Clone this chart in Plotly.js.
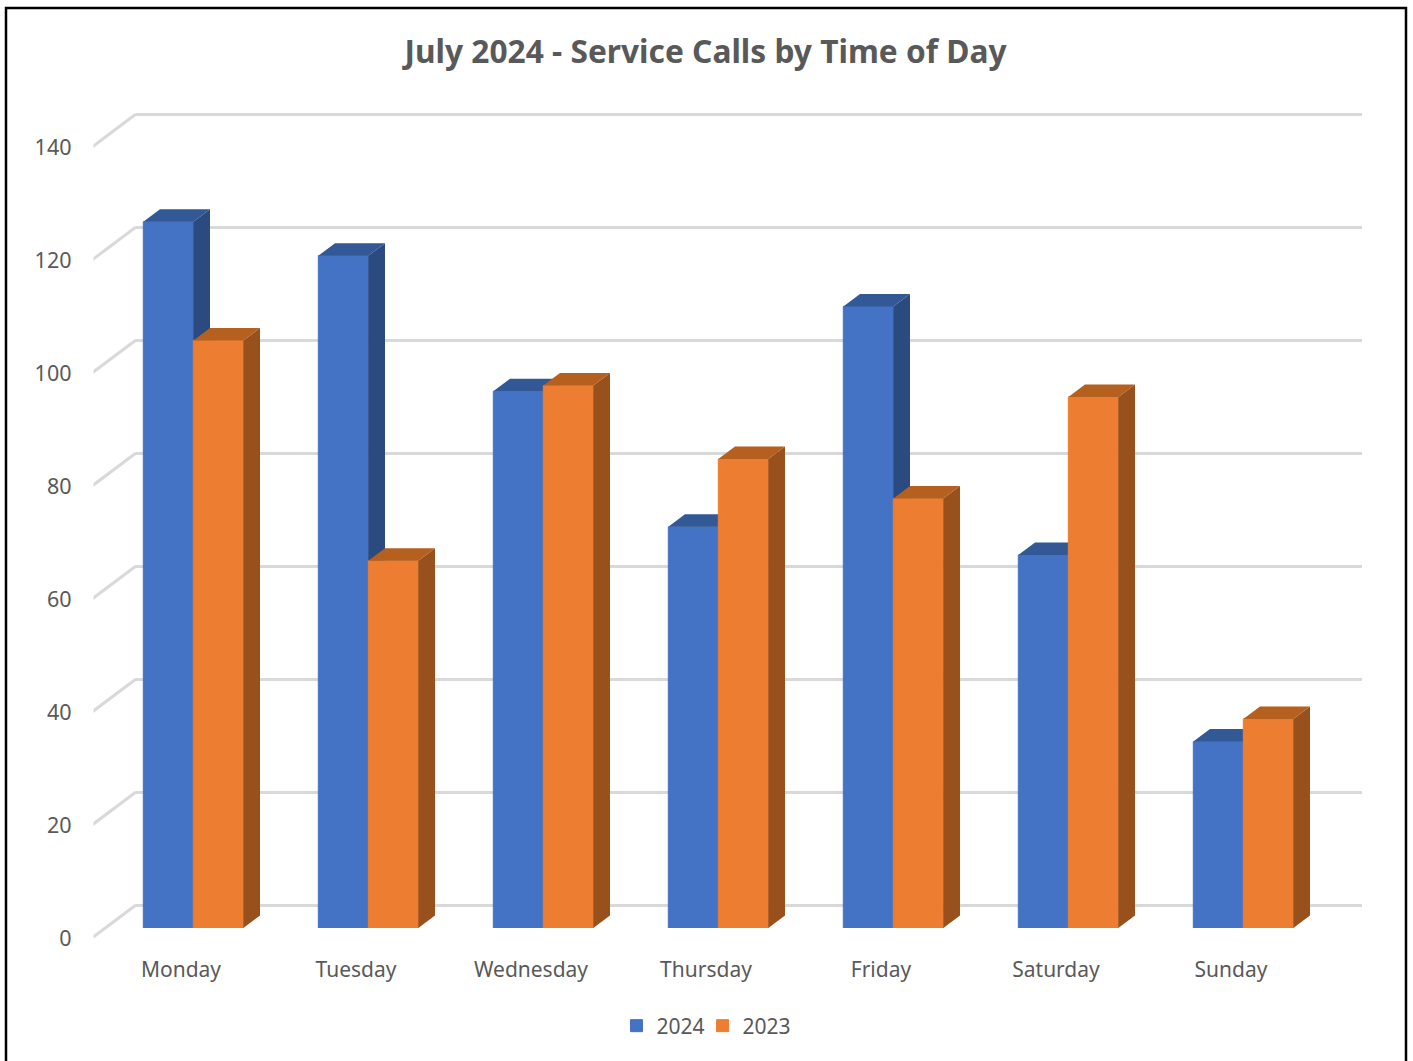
<!DOCTYPE html>
<html>
<head>
<meta charset="utf-8">
<script src="https://cdn.plot.ly/plotly-3.0.1.min.js"></script>
<style>html,body{margin:0;padding:0;background:#fff;overflow:hidden}</style>
</head>
<body>
<div id="chart" style="width:1413px;height:1061px"></div>
<script>
const categories = ['Monday','Tuesday','Wednesday','Thursday','Friday','Saturday','Sunday'];
const values2024 = [125,119,95,71,110,66,33];
const values2023 = [104,65,96,83,76,94,37];
const valueTicks = [0,20,40,60,80,100,120,140];

const W = 1413, H = 1061;
const UNIT = 791/140, SLOT = 175;
const TEXT = '#595959', GRID = '#D9D9D9';
const FONT = 'Noto Sans, sans-serif';
const BAR = 50/SLOT, DX = 16.7/SLOT, DY = 12.5/UNIT, WALLX = 44/SLOT, WALLY = 33/UNIT;
const LEFT = -0.5 - 1.5/SLOT;
const idx = categories.map((_, i) => i);

const domX = (a, b) => [a/W, b/W];
const domY = (bottom, top) => [(H-bottom)/H, (H-top)/H];
const yRange = (bottom, top) => [0, (bottom-top)/UNIT];

function faces(values, off) {
  const side = {x:[], y:[]}, top = {x:[], y:[]};
  values.forEach((v, i) => {
    const l = i+off, r = l+BAR;
    side.x.push(r, r+DX, r+DX, r, r, null);
    side.y.push(0, DY, v+DY, v, 0, null);
    top.x.push(l, l+DX, r+DX, r, l, null);
    top.y.push(v, v+DY, v+DY, v, v, null);
  });
  return {side, top};
}
function poly(d, color, ax, ay) {
  return {type:'scatter', mode:'lines', x:d.x, y:d.y, xaxis:ax, yaxis:ay, fill:'toself',
          fillcolor:color, line:{width:0, color:color}, hoverinfo:'skip', showlegend:false};
}
const f24 = faces(values2024, -BAR), f23 = faces(values2023, 0);

const diag = {x:[], y:[]};
valueTicks.forEach(v => {
  diag.x.push(LEFT, LEFT+WALLX, null);
  diag.y.push(v, v+WALLY, null);
});

const traces = [
  {type:'scatter', mode:'lines', x:[0], y:[0], xaxis:'x', yaxis:'y', hoverinfo:'skip', showlegend:false},
  {type:'bar', name:'2024', x:idx, y:values2024, xaxis:'x2', yaxis:'y2', width:BAR, offset:-BAR,
   marker:{color:'#4472C4', line:{width:1, color:'#4472C4'}}},
  poly(f24.side, '#2A4A80', 'x2', 'y2'),
  poly(f24.top, '#325996', 'x2', 'y2'),
  {type:'bar', name:'2023', x:idx, y:values2023, xaxis:'x3', yaxis:'y3', width:BAR, offset:0,
   marker:{color:'#ED7D31', line:{width:1, color:'#ED7D31'}}},
  poly(f23.side, '#98501C', 'x3', 'y3'),
  poly(f23.top, '#B5601F', 'x3', 'y3'),
  {type:'scatter', mode:'lines', x:diag.x, y:diag.y, xaxis:'x4', yaxis:'y4', cliponaxis:false,
   line:{color:GRID, width:3}, hoverinfo:'skip', showlegend:false}
];

const hiddenX = (dom, anchor) => ({domain:dom, range:[-0.5,6.5], anchor:anchor, visible:false, fixedrange:true});
const hiddenY = (dom, rng, anchor) => ({domain:dom, range:rng, anchor:anchor, visible:false, fixedrange:true});

const layout = {
  width:W, height:H,
  margin:{l:0,r:0,t:0,b:0,pad:0},
  paper_bgcolor:'#fff', plot_bgcolor:'rgba(0,0,0,0)',
  showlegend:true,
  title:{text:'July 2024 - Service Calls by Time of Day', x:705.5/W, xref:'paper', xanchor:'center',
         y:1-52/H, yref:'paper', yanchor:'middle',
         font:{family:FONT, size:31.7, weight:700, color:TEXT}},
  legend:{orientation:'h', x:710/W, xanchor:'center', y:1-1026/H, yanchor:'middle', indentation:-7,
          font:{family:FONT, size:21, color:TEXT}, bgcolor:'rgba(0,0,0,0)', traceorder:'normal'},
  font:{family:FONT, color:TEXT},
  xaxis:{domain:domX(136,1362), range:[-0.5,6.5], anchor:'y', showgrid:false, zeroline:false,
         showticklabels:false, showline:false, ticks:'', fixedrange:true},
  yaxis:{domain:domY(915,100), range:[-10/UNIT, 805/UNIT], anchor:'x', tickmode:'array', tickvals:valueTicks,
         showgrid:true, gridcolor:GRID, gridwidth:3, zeroline:false, showticklabels:false, showline:false, ticks:'', fixedrange:true},
  xaxis2:hiddenX(domX(105.8,1330.8),'y2'),
  yaxis2:hiddenY(domY(928,100),yRange(928,100),'x2'),
  xaxis3:hiddenX(domX(105.8,1330.8),'y3'),
  yaxis3:hiddenY(domY(928,100),yRange(928,100),'x3'),
  xaxis4:{domain:domX(93.5,1318.5), range:[-0.5,6.5], anchor:'y4', tickmode:'array', tickvals:idx, ticktext:categories,
          showgrid:false, zeroline:false, showline:false, ticks:'', ticklabelstandoff:17,
          tickfont:{family:FONT, size:21, color:TEXT}, fixedrange:true},
  yaxis4:{domain:domY(938,100), range:yRange(938,100), anchor:'x4', tickmode:'array', tickvals:valueTicks,
          showgrid:false, zeroline:false, showline:false, ticks:'', ticklabelstandoff:21,
          tickfont:{family:FONT, size:21.5, color:TEXT}, fixedrange:true},
  shapes:[{type:'rect', xref:'paper', yref:'paper', x0:6/W, x1:1406/W, y0:-0.02, y1:1-8/H,
           line:{color:'#000', width:2.5}, fillcolor:'rgba(0,0,0,0)', layer:'below'}]
};
Plotly.newPlot('chart', traces, layout, {displayModeBar:false, staticPlot:true});
</script>
</body>
</html>
